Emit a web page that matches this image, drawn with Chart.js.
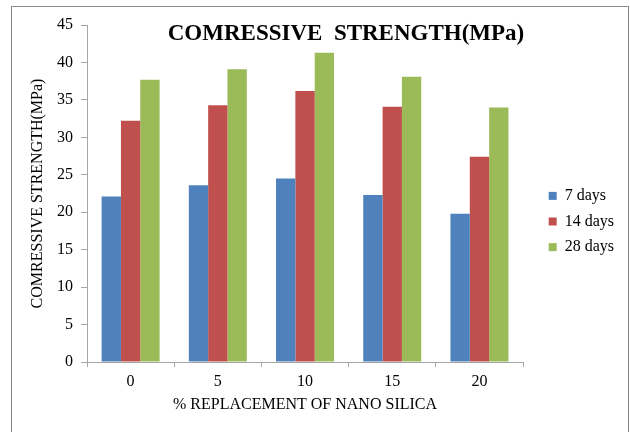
<!DOCTYPE html>
<html>
<head>
<meta charset="utf-8">
<script src="https://cdn.jsdelivr.net/npm/chart.js@4"></script>
<style>
  html, body { margin: 0; padding: 0; background: #fff; }
  #wrap { position: relative; width: 630px; height: 432px; overflow: hidden; }
  #frame {
    position: absolute; left: 11px; top: 6px; width: 616px; height: 440px;
    border: 1.5px solid #8a8a8a; pointer-events: none;
  }
</style>
</head>
<body>
<div id="wrap">
  <canvas id="strengthChart" width="630" height="432"></canvas>
  <div id="frame"></div>
</div>
<script>
const categories = ["0", "5", "10", "15", "20"];
const seriesNames = ["7 days", "14 days", "28 days"];
const days7 = [22.1, 23.6, 24.5, 22.3, 19.8];
const days14 = [32.2, 34.3, 36.2, 34.1, 27.4];
const days28 = [37.7, 39.1, 41.3, 38.1, 34.0];
const yTicks = [0, 5, 10, 15, 20, 25, 30, 35, 40, 45];

const chartTitle = "COMRESSIVE  STRENGTH(MPa)";
const serif = "'Liberation Serif', 'Times New Roman', serif";
const axisGrey = "#a6a6a6";

// title sits inside the plot area in the original, so draw it by hand
const titlePlugin = {
    id: "innerTitle",
    afterDraw(chart) {
        const ctx = chart.ctx;
        ctx.save();
        ctx.font = "bold 23px " + serif;
        ctx.fillStyle = "#000";
        ctx.textAlign = "center";
        ctx.textBaseline = "middle";
        ctx.fillText(chartTitle, 346, 34);
        ctx.restore();
    }
};

const chart = new Chart(
    document.getElementById("strengthChart"),
    {
        type: "bar",
        data: {
            labels: categories,
            datasets: [
                { label: seriesNames[0], data: days7, backgroundColor: "#4f81bd" },
                { label: seriesNames[1], data: days14, backgroundColor: "#c0504d" },
                { label: seriesNames[2], data: days28, backgroundColor: "#9bbb59" }
            ]
        },
        options: {
            responsive: false,
            animation: false,
            layout: {
                padding: { left: 24, top: 25, right: 6, bottom: 14 }
            },
            datasets: {
                bar: { categoryPercentage: 0.665, barPercentage: 1.0 }
            },
            plugins: {
                tooltip: { enabled: false },
                title: { display: false },
                legend: {
                    position: "right",
                    align: "center",
                    labels: {
                        boxWidth: 8,
                        boxHeight: 8,
                        padding: 9.6,
                        color: "#000",
                        font: { family: serif, size: 16 }
                    }
                }
            },
            scales: {
                x: {
                    offset: true,
                    grid: {
                        offset: true,
                        drawOnChartArea: false,
                        drawTicks: true,
                        tickLength: 5,
                        color: axisGrey
                    },
                    border: { display: true, color: axisGrey },
                    ticks: {
                        padding: 5,
                        color: "#000",
                        font: { family: serif, size: 16 }
                    },
                    title: {
                        display: true,
                        text: "% REPLACEMENT OF NANO SILICA",
                        color: "#000",
                        font: { family: serif, size: 16 }
                    },
                    afterFit: (s) => { s.height = 56; }
                },
                y: {
                    min: 0,
                    max: 45,
                    afterBuildTicks: (s) => {
                        s.ticks = yTicks.map(v => ({ value: v }));
                    },
                    grid: {
                        drawOnChartArea: false,
                        drawTicks: true,
                        tickLength: 6,
                        color: axisGrey
                    },
                    border: { display: true, color: axisGrey },
                    ticks: {
                        padding: 8,
                        color: "#000",
                        font: { family: serif, size: 16 }
                    },
                    title: {
                        display: true,
                        text: "COMRESSIVE STRENGTH(MPa)",
                        color: "#000",
                        font: { family: serif, size: 16 }
                    },
                    afterFit: (s) => { s.width = 63; }
                },
                gap: {
                    type: "linear",
                    position: "right",
                    display: true,
                    grid: { display: false, drawTicks: false },
                    border: { display: false },
                    ticks: { display: false },
                    afterFit: (s) => { s.width = 16; }
                }
            }
        },
        plugins: [titlePlugin]
    }
);
</script>
</body>
</html>
